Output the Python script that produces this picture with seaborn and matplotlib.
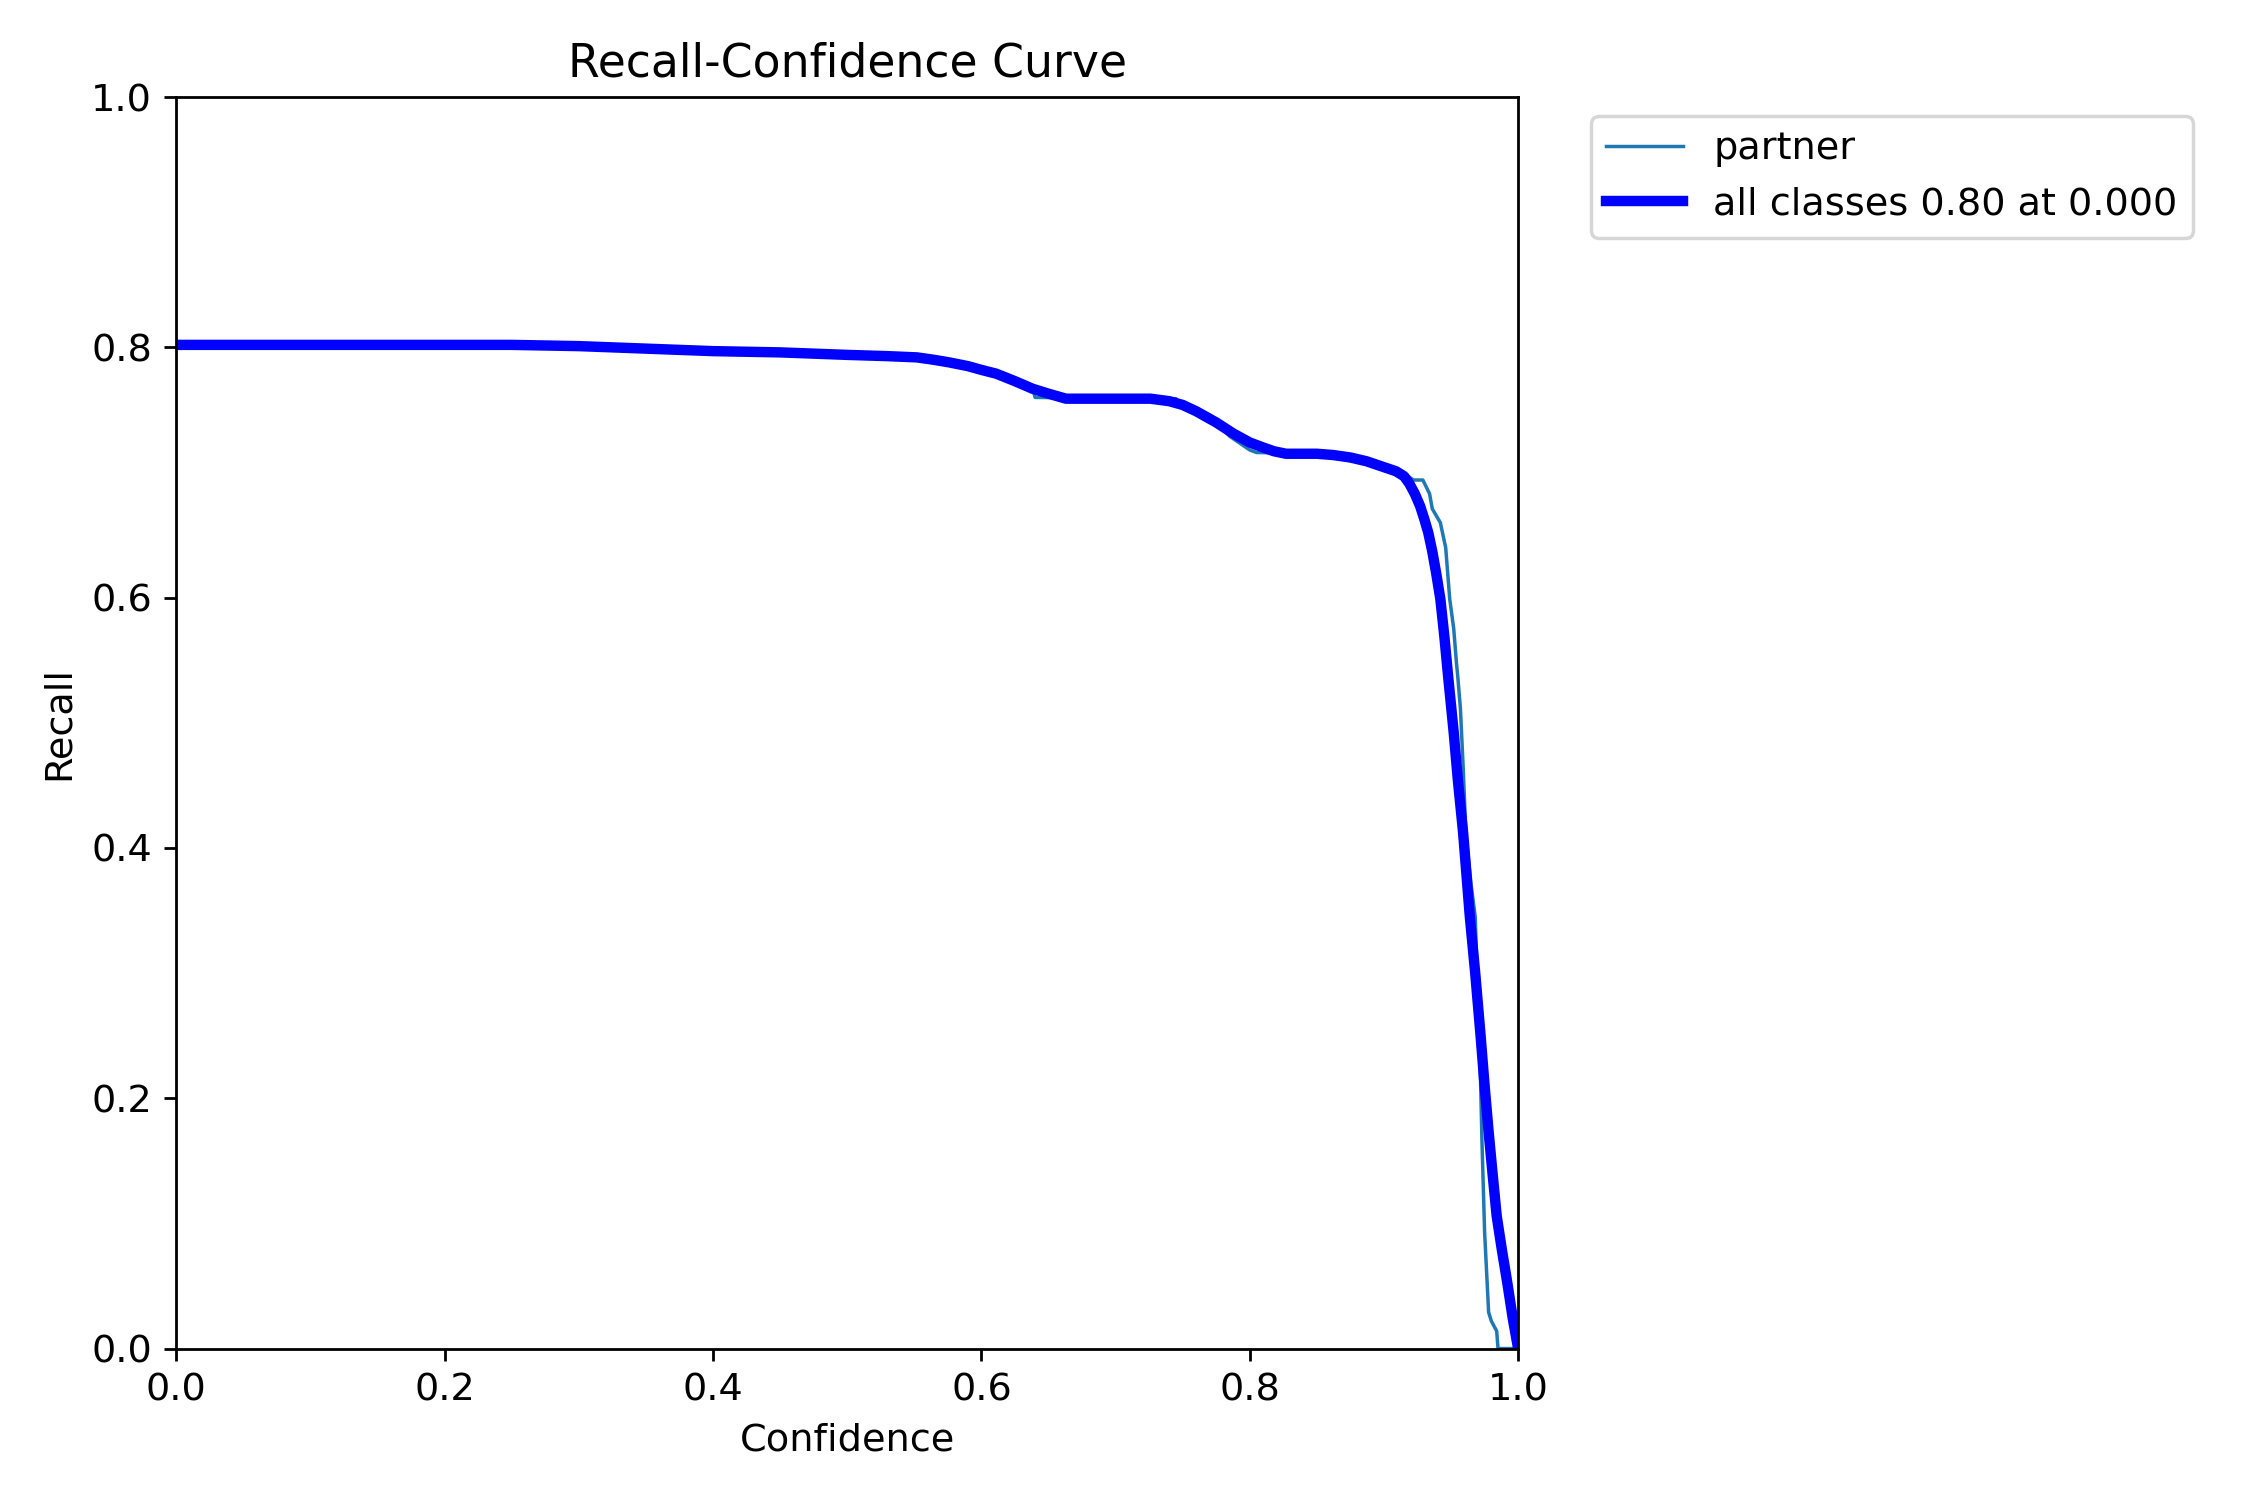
import matplotlib
matplotlib.use("Agg")
import matplotlib.pyplot as plt
import seaborn as sns

plt.rcParams["font.size"] = 11

# per-class curve (raw)
partner_conf = [0.0, 0.25, 0.40, 0.54, 0.57, 0.60, 0.615, 0.638, 0.640, 0.745, 0.748,
                0.77, 0.785, 0.80, 0.805, 0.86, 0.88, 0.91, 0.922, 0.929, 0.934, 0.936,
                0.942, 0.946, 0.949, 0.952, 0.954, 0.955, 0.957, 0.959, 0.961, 0.965,
                0.968, 0.972, 0.973, 0.975, 0.978, 0.980, 0.984, 0.985, 1.0]
partner_recall = [0.802, 0.802, 0.797, 0.792, 0.788, 0.781, 0.776, 0.768, 0.760, 0.759, 0.755,
                  0.746, 0.729, 0.718, 0.716, 0.715, 0.712, 0.703, 0.694, 0.694, 0.683, 0.671,
                  0.660, 0.640, 0.599, 0.575, 0.548, 0.537, 0.511, 0.465, 0.412, 0.370,
                  0.345, 0.213, 0.167, 0.093, 0.029, 0.022, 0.014, 0.0, 0.0]

# all classes (smoothed mean)
all_conf = [0.0, 0.25, 0.30, 0.35, 0.40, 0.45, 0.50, 0.53, 0.552, 0.565, 0.576, 0.59, 0.60,
            0.611, 0.625, 0.638, 0.65, 0.663, 0.726, 0.733, 0.740, 0.750, 0.760, 0.775,
            0.788, 0.800, 0.810, 0.818, 0.827, 0.850, 0.862, 0.875, 0.887, 0.898, 0.909,
            0.915, 0.919, 0.923, 0.927, 0.930, 0.933, 0.936, 0.939, 0.942, 0.945, 0.948,
            0.952, 0.955, 0.959, 0.964, 0.968, 0.972, 0.975, 0.978, 0.981, 0.984, 0.988,
            0.992, 0.996, 1.0]
all_recall = [0.802, 0.802, 0.801, 0.799, 0.797, 0.796, 0.794, 0.793, 0.792, 0.790, 0.788,
              0.785, 0.782, 0.779, 0.773, 0.767, 0.763, 0.759, 0.759, 0.758, 0.757, 0.754,
              0.749, 0.740, 0.731, 0.724, 0.720, 0.717, 0.715, 0.715, 0.714, 0.712, 0.709,
              0.705, 0.701, 0.697, 0.691, 0.683, 0.673, 0.663, 0.652, 0.637, 0.619, 0.599,
              0.569, 0.535, 0.492, 0.455, 0.412, 0.345, 0.300, 0.250, 0.210, 0.173, 0.139,
              0.106, 0.078, 0.052, 0.024, 0.0]

fig, ax = plt.subplots(1, 1, figsize=(9, 6), tight_layout=True)

sns.lineplot(x=partner_conf, y=partner_recall, ax=ax, sort=False, estimator=None,
             linewidth=1, color="#1f77b4", label="partner")
sns.lineplot(x=all_conf, y=all_recall, ax=ax, sort=False, estimator=None,
             linewidth=3, color="blue", label="all classes 0.80 at 0.000")

ax.set_xlabel("Confidence")
ax.set_ylabel("Recall")
ax.set_xlim(0, 1)
ax.set_ylim(0, 1)
ax.legend(bbox_to_anchor=(1.04, 1), loc="upper left")
ax.set_title("Recall-Confidence Curve")

fig.savefig("out.png", dpi=250)
